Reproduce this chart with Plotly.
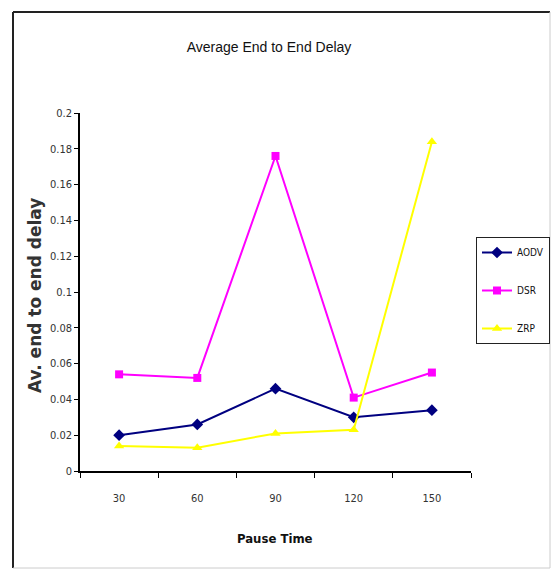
import plotly.graph_objects as go

pause_time = ["30", "60", "90", "120", "150"]
aodv = [0.020, 0.026, 0.046, 0.030, 0.034]
dsr = [0.054, 0.052, 0.176, 0.041, 0.055]
zrp = [0.014, 0.013, 0.021, 0.023, 0.184]
y_ticks = [0, 0.02, 0.04, 0.06, 0.08, 0.1, 0.12, 0.14, 0.16, 0.18, 0.2]

FONT = "Liberation Sans Narrow, Liberation Sans, Arial, sans-serif"
COND = "DejaVu Sans Condensed, Liberation Sans Narrow, Liberation Sans, sans-serif"

fig = go.Figure()
fig.add_trace(go.Scatter(x=pause_time, y=aodv, name="AODV", mode="lines+markers",
                         legendgroup="a",
                         line=dict(color="#000080", width=2),
                         marker=dict(symbol="diamond", size=9, color="#000080")))
fig.add_trace(go.Scatter(x=pause_time, y=dsr, name="DSR", mode="lines+markers",
                         legendgroup="b",
                         line=dict(color="#FF00FF", width=2),
                         marker=dict(symbol="square", size=8, color="#FF00FF")))
fig.add_trace(go.Scatter(x=pause_time, y=zrp, name="ZRP", mode="lines+markers",
                         legendgroup="c",
                         line=dict(color="#FFFF00", width=2),
                         marker=dict(symbol="triangle-up", size=9, color="#FFFF00")))

# figure coordinates (page offset of 8px body margin removed)
L, R, T, B = 72, 463, 105, 463
W, H = 543, 561
pw, ph = R - L, B - T

def px(x):
    return (x - L) / pw

def py(y):
    return (B - y) / ph

fig.update_layout(
    width=W, height=H,
    margin=dict(l=L, r=W - R, t=T, b=H - B, autoexpand=False),
    paper_bgcolor="white", plot_bgcolor="white",
    font=dict(family=FONT, color="#222222"),
    title=dict(text="Average End to End Delay", x=261 / W, xanchor="center",
               y=1 - 39 / H, yanchor="middle",
               font=dict(family=FONT, size=14, color="#111111")),
    showlegend=True,
    legend=dict(x=px(542), y=py(229), xanchor="right", yanchor="top",
                bordercolor="#222222", borderwidth=1, bgcolor="white",
                font=dict(family=COND, size=10, color="#111111"),
                itemwidth=30, tracegroupgap=19),
    xaxis=dict(type="category", range=[-0.5, 4.5], tickson="boundaries",
               ticks="outside", ticklen=5, tickcolor="black",
               ticklabelstandoff=16,
               showline=True, linecolor="black", linewidth=1.5,
               showgrid=False, zeroline=False,
               tickfont=dict(family=COND, size=11, color="#333333")),
    yaxis=dict(range=[0, 0.2], tickvals=y_ticks,
               ticktext=[str(v) for v in y_ticks],
               ticks="outside", ticklen=4, tickcolor="black",
               showline=True, linecolor="black", linewidth=1.5,
               showgrid=False, zeroline=False,
               tickfont=dict(family=COND, size=11, color="#333333")),
    annotations=[
        dict(text="<b>Pause Time</b>", xref="paper", yref="paper",
             x=px(267), y=py(530), xanchor="center", yanchor="middle",
             showarrow=False, font=dict(family=COND, size=13, color="#111111")),
        dict(text="<b>Av. end to end delay</b>", xref="paper", yref="paper",
             x=px(27), y=py(288), xanchor="center", yanchor="middle", textangle=-90,
             showarrow=False,
             font=dict(family="DejaVu Sans, sans-serif", size=17, color="#333333")),
    ],
    shapes=[
        dict(type="line", xref="paper", yref="paper", x0=px(5), x1=px(5),
             y0=py(560), y1=py(4), line=dict(color="#222222", width=2)),
        dict(type="line", xref="paper", yref="paper", x0=px(5), x1=px(542),
             y0=py(4), y1=py(4), line=dict(color="#222222", width=2)),
        dict(type="line", xref="paper", yref="paper", x0=px(542), x1=px(542),
             y0=py(560), y1=py(4), line=dict(color="#cccccc", width=1)),
        dict(type="line", xref="paper", yref="paper", x0=px(5), x1=px(542),
             y0=py(560), y1=py(560), line=dict(color="#cccccc", width=1)),
    ],
)

fig.write_html("out.html")
